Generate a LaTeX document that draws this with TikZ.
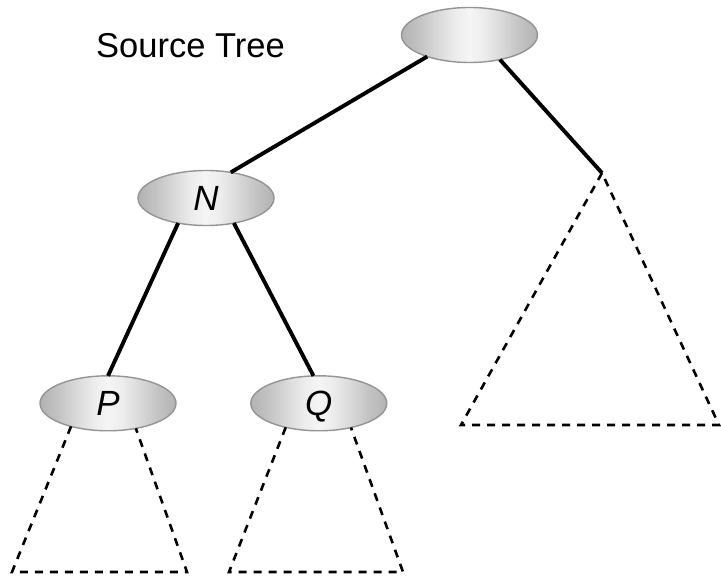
\documentclass[tikz,border=0pt]{standalone}
\usepackage{fontspec}
\setmainfont{Liberation Sans}
\usetikzlibrary{shapes.geometric}
\pgfdeclarehorizontalshading{ellshade}{100bp}{color(0bp)=(black!30); color(25bp)=(black!30); color(32bp)=(black!23); color(39bp)=(black!14); color(45bp)=(black!7); color(50bp)=(black!4); color(55bp)=(black!7); color(61bp)=(black!14); color(68bp)=(black!23); color(75bp)=(black!30); color(100bp)=(black!30)}
\tikzset{
  treenode/.style={ellipse, draw=black!42, line width=1.4pt,
    shading=ellshade,
    minimum width=136pt, minimum height=55pt, inner sep=0pt, outer sep=0pt,
    font=\fontsize{35}{40}\selectfont\itshape, text height=25pt, text depth=0pt},
  treeedge/.style={line width=3.9pt, black},
  subtree/.style={line width=2.6pt, black, dash pattern=on 8pt off 7pt, line join=miter},
  caption/.style={font=\fontsize{34.5}{40}\selectfont, inner sep=0pt, anchor=base west}
}
\begin{document}
\begin{tikzpicture}[x=1pt, y=-1pt]
\useasboundingbox (0,0) rectangle (721,577);
\node[caption] (title) at (96,58) {Source Tree};
\node[treenode] (root) at (469.5,35) {};
\node[treenode] (N) at (206,198) {N};
\node[treenode] (P) at (108,403.3) {P};
\node[treenode] (Q) at (318.8,403.3) {Q};
\coordinate (apex) at (602,173);
\coordinate (rl) at (461,425);
\coordinate (rr) at (719,425);
\coordinate (pbl) at (12,572);
\coordinate (pbr) at (187,572);
\coordinate (qbl) at (229,572);
\coordinate (qbr) at (403,572);
\draw[treeedge] (root.207) -- (N.46);
\draw[treeedge] (root.321) -- (apex);
\draw[treeedge] (N.222) -- (P.north);
\draw[treeedge] (N.318) -- (Q.101);
\draw[subtree] (apex) -- (rl) -- (rr) -- cycle;
\draw[subtree] (P.212) -- (pbl) -- (pbr) -- (P.318.6);
\draw[subtree] (Q.216) -- (qbl) -- (qbr) -- (Q.323.4);
\end{tikzpicture}
\end{document}
